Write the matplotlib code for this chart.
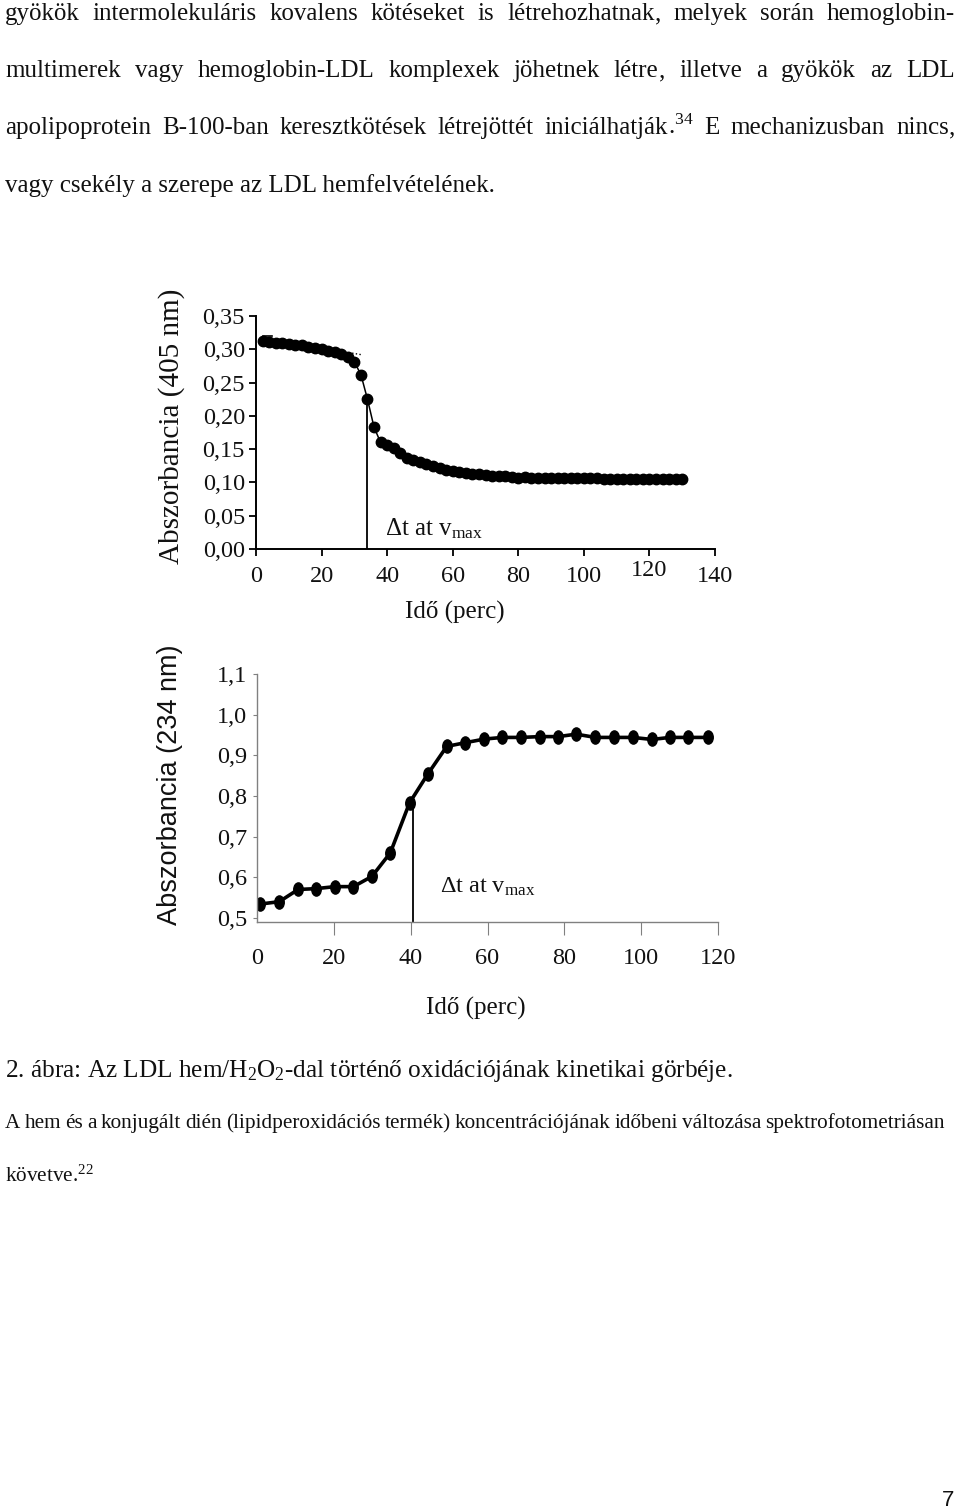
import numpy as np
import matplotlib.pyplot as plt
from matplotlib.markers import MarkerStyle
from matplotlib.transforms import Affine2D, ScaledTranslation

plt.rcParams['font.family'] = ['Liberation Serif', 'DejaVu Serif']
plt.rcParams['mathtext.fontset'] = 'custom'
plt.rcParams['mathtext.rm'] = 'Liberation Serif'
plt.rcParams['mathtext.it'] = 'Liberation Serif:italic'
plt.rcParams['mathtext.bf'] = 'Liberation Serif:bold'

INK = '#111111'

# --- top panel: absorbance at 405 nm (hem) ---
t405 = np.arange(2, 131, 2)
a405 = [0.313, 0.311, 0.310, 0.309, 0.308, 0.307, 0.306, 0.304, 0.302, 0.300,
        0.298, 0.296, 0.293, 0.289, 0.281, 0.262, 0.225, 0.183, 0.160, 0.156,
        0.151, 0.144, 0.137, 0.133, 0.130, 0.127, 0.124, 0.121, 0.119, 0.117,
        0.115, 0.114, 0.113, 0.112, 0.111, 0.110, 0.109, 0.109, 0.108, 0.107,
        0.108, 0.107, 0.107, 0.107, 0.107, 0.106, 0.106, 0.106, 0.106, 0.106,
        0.106, 0.106, 0.105, 0.105, 0.105, 0.105, 0.105, 0.105, 0.105, 0.105,
        0.105, 0.105, 0.105, 0.105, 0.105]
vmax405 = (33.9, 0.216)
cap405 = ([2.1, 5.0], [0.320, 0.320])
tan405_a = ([26, 32], [0.297, 0.292])
tan405_b = ([121, 128], [0.111, 0.111])
xt405 = [0, 20, 40, 60, 80, 100, 120, 140]
yt405 = [0.00, 0.05, 0.10, 0.15, 0.20, 0.25, 0.30, 0.35]
yl405 = ['0,00', '0,05', '0,10', '0,15', '0,20', '0,25', '0,30', '0,35']

# --- bottom panel: absorbance at 234 nm (conjugated diene) ---
t234 = [0.7, 5.8, 10.7, 15.3, 20.3, 25.1, 29.9, 34.7, 39.7, 44.4, 49.4, 54.2, 59.2,
        63.9, 68.7, 73.7, 78.4, 83.1, 88.1, 93.0, 97.8, 102.8, 107.5, 112.3, 117.3]
a234 = [0.534, 0.540, 0.570, 0.572, 0.577, 0.577, 0.602, 0.660, 0.783, 0.853, 0.922,
        0.931, 0.940, 0.944, 0.944, 0.946, 0.946, 0.952, 0.944, 0.944, 0.944, 0.939,
        0.944, 0.944, 0.944]
vmax234 = (40.7, 0.79)
xt234 = [0, 20, 40, 60, 80, 100, 120]
yt234 = [0.5, 0.6, 0.7, 0.8, 0.9, 1.0, 1.1]
yl234 = ['0,5', '0,6', '0,7', '0,8', '0,9', '1,0', '1,1']

W, H = 960, 1512
fig = plt.figure(figsize=(W / 100, H / 100), dpi=100)


def fx(px):
    return px / W


def fy(py):
    return 1 - py / H


def justified(words, y, x0, x1, size):
    # spread the words of one line evenly between x0 and x1 (pixels);
    # trailing punctuation goes in its own text so every word sits on the same baseline
    r = fig.canvas.get_renderer()
    parts = []
    for w in words:
        if w[-1] in ',.' and len(w) > 1:
            parts.append([w[:-1], w[-1]])
        elif w.endswith('$') and w.split('$')[0][-1:] in ',.':
            head = w.split('$')[0]
            parts.append([head[:-1], head[-1] + w[len(head):]])
        else:
            parts.append([w])
    texts = [[fig.text(0, fy(y), p, fontsize=size, va='baseline', color=INK) for p in ps]
             for ps in parts]
    widths = [[t.get_window_extent(r).width for t in ts] for ts in texts]
    gap = (x1 - x0 - sum(sum(ws) for ws in widths)) / (len(words) - 1)
    x = x0
    for ts, ws in zip(texts, widths):
        for t, w in zip(ts, ws):
            t.set_x(fx(x))
            x += w
        x += gap


body = 18
justified('gyökök intermolekuláris kovalens kötéseket is létrehozhatnak, melyek során hemoglobin-'.split(),
          20, 5, 955, body)
justified('multimerek vagy hemoglobin-LDL komplexek jöhetnek létre, illetve a gyökök az LDL'.split(),
          77, 5, 955, body)
justified(['apolipoprotein', 'B-100-ban', 'keresztkötések', 'létrejöttét',
           r'iniciálhatják.$^{\mathrm{34}}$', 'E', 'mechanizusban', 'nincs,'],
          134, 5, 955, body)
fig.text(fx(5), fy(192), 'vagy csekély a szerepe az LDL hemfelvételének.', fontsize=body,
         va='baseline', color=INK)

# top chart
ax1 = fig.add_axes([fx(256), fy(549), (715 - 256) / W, (549 - 316) / H])
ax1.plot(t405, a405, '-o', color='black', lw=1.1, ms=7.5)
ax1.plot(*cap405, color='black', lw=1.2)
ax1.plot(*tan405_a, color='black', lw=1.0, ls=':')
ax1.plot(*tan405_b, color='black', lw=1.0, ls=':')
ax1.plot([vmax405[0], vmax405[0]], [0, vmax405[1]], color='black', lw=1.3)
ax1.text(39.3, 0.021, r'$\Delta$t at v$_{\mathrm{max}}$', fontsize=18, color=INK)
ax1.set_xlim(0, 140)
ax1.set_ylim(0, 0.35)
ax1.set_xticks(xt405)
ax1.set_yticks(yt405)
ax1.set_yticklabels(yl405)
ax1.spines[['top', 'right']].set_visible(False)
for s in ax1.spines.values():
    s.set_linewidth(1.4)
ax1.tick_params(direction='out', length=5, width=1.4, labelsize=17.5, colors=INK)
ax1.tick_params(axis='x', pad=7)
ax1.tick_params(axis='y', pad=3)
lab120 = ax1.get_xticklabels()[6]
lab120.set_transform(lab120.get_transform() + ScaledTranslation(0, 0.06, fig.dpi_scale_trans))
fig.text(fx(455), fy(612), 'Idő (perc)', fontsize=18, ha='center', va='center', color=INK)
fig.text(fx(172), fy(426), 'Abszorbancia (405 nm)', fontsize=21, rotation=90,
         ha='center', va='center', color=INK)

# bottom chart
ax2 = fig.add_axes([fx(257), fy(922), (718 - 257) / W, (922 - 674) / H])
oval = MarkerStyle('o', transform=Affine2D().scale(0.72, 1.0))
ax2.plot(t234, a234, '-', color='black', lw=2.6)
ax2.plot(t234, a234, ls='none', marker=oval, color='black', ms=9.5)
ax2.plot([vmax234[0], vmax234[0]], [0.49, vmax234[1]], color='black', lw=1.3)
ax2.text(47.6, 0.561, r'$\Delta$t at v$_{\mathrm{max}}$', fontsize=17.5, color=INK)
ax2.set_xlim(0, 120)
ax2.set_ylim(0.49, 1.1)
ax2.set_xticks(xt234)
ax2.set_yticks(yt234)
ax2.set_yticklabels(yl234)
ax2.spines[['top', 'right']].set_visible(False)
for s in ax2.spines.values():
    s.set_color('#808080')
    s.set_linewidth(1.0)
ax2.tick_params(direction='out', color='#808080', labelcolor=INK, labelsize=17.5)
ax2.tick_params(axis='x', length=9, pad=10)
ax2.tick_params(axis='y', length=3, pad=4)
ax2.xaxis.get_major_ticks()[0].tick1line.set_visible(False)
fig.text(fx(476), fy(1008), 'Idő (perc)', fontsize=18, ha='center', va='center', color=INK)
fig.text(fx(170), fy(785), 'Abszorbancia (234 nm)', fontsize=19.5, rotation=90,
         ha='center', va='center', color=INK, family=['Liberation Sans', 'DejaVu Sans'])

# caption
fig.text(fx(5), fy(1077), r'2. ábra: Az LDL hem/H$_{\mathrm{2}}$O$_{\mathrm{2}}$-dal történő oxidációjának kinetikai görbéje.',
         fontsize=18.2, va='baseline', color=INK)
justified('A hem és a konjugált dién (lipidperoxidációs termék) koncentrációjának időbeni változása spektrofotometriásan'.split(),
          1128, 5, 945, 15.3)
fig.text(fx(5), fy(1182), r'követve.$^{\mathrm{22}}$', fontsize=15.3, va='baseline', color=INK)

fig.text(fx(948), fy(1500), '7', fontsize=16, ha='center', va='center', color=INK,
         family=['Liberation Sans', 'DejaVu Sans'])

fig.savefig('out.png', dpi=100, facecolor='white')
